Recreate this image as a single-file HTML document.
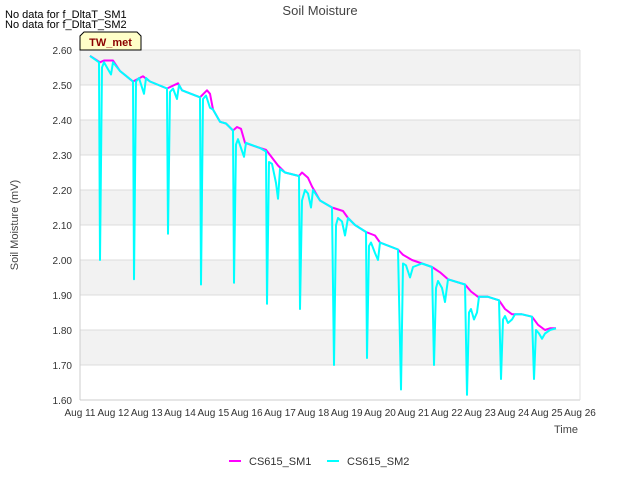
<!DOCTYPE html>
<html><head><meta charset="utf-8"><style>body{margin:0;background:#fff}svg{display:block;font-family:"Liberation Sans",sans-serif}</style></head><body>
<svg id="c" width="640" height="480">
<g id="bands"></g>
<g id="grid"></g>
<g id="axes"></g>
<g id="series"></g>
<text x="320" y="15" text-anchor="middle" font-size="13" fill="#444">Soil Moisture</text>
<text x="5" y="18" font-size="11" fill="#000">No data for f_DltaT_SM1</text>
<text x="5" y="28" font-size="11" fill="#000">No data for f_DltaT_SM2</text>
<g><path d="M80,50 L80,36 L84,32 L137,32 L141,36 L141,50 Z" fill="#ffffc8" stroke="#000" stroke-width="1"/><text x="110.5" y="46" text-anchor="middle" font-size="11" font-weight="bold" fill="#8b0000">TW_met</text></g>
<text transform="translate(18,225) rotate(-90)" text-anchor="middle" font-size="11" fill="#444">Soil Moisture (mV)</text>
<text x="566" y="433" text-anchor="middle" font-size="11" fill="#444">Time</text>
<g>
<g><line x1="229" y1="461" x2="241" y2="461" stroke="#ff00ff" stroke-width="2"/><text x="249" y="465" font-size="11" fill="#333">CS615_SM1</text></g>
<g><line x1="327" y1="461" x2="339" y2="461" stroke="#00ffff" stroke-width="2"/><text x="347" y="465" font-size="11" fill="#333">CS615_SM2</text></g>
</g>
</svg>
<script>
const xTickLabels=["Aug 11","Aug 12","Aug 13","Aug 14","Aug 15","Aug 16","Aug 17","Aug 18","Aug 19","Aug 20","Aug 21","Aug 22","Aug 23","Aug 24","Aug 25","Aug 26"];
const yTicks=[1.6,1.7,1.8,1.9,2.0,2.1,2.2,2.3,2.4,2.5,2.6];
const sm1Days=[0.30,0.60,0.72,0.99,1.20,1.59,1.89,2.10,2.61,2.94,3.06,3.60,3.81,3.90,3.99,4.20,4.38,4.59,4.71,4.83,4.95,5.40,5.58,5.70,5.94,6.15,6.57,6.66,6.84,6.96,7.20,7.56,7.89,8.04,8.25,8.58,8.85,9.00,9.54,9.69,9.96,10.26,10.56,10.80,11.04,11.55,11.73,11.94,12.24,12.57,12.75,12.96,13.26,13.56,13.74,13.95,14.10,14.28];
const sm1Values=[2.583,2.565,2.57,2.57,2.54,2.51,2.525,2.51,2.49,2.505,2.485,2.465,2.485,2.475,2.43,2.395,2.39,2.37,2.38,2.375,2.335,2.32,2.315,2.30,2.27,2.25,2.24,2.25,2.235,2.21,2.17,2.15,2.14,2.12,2.10,2.08,2.07,2.05,2.03,2.015,2.0,1.99,1.98,1.965,1.945,1.93,1.91,1.895,1.895,1.885,1.86,1.845,1.845,1.838,1.815,1.80,1.805,1.805];
const sm2Days=[0.30,0.57,0.60,0.66,0.72,0.78,0.93,0.99,1.20,1.59,1.62,1.68,1.77,1.92,1.98,2.10,2.61,2.64,2.70,2.79,2.91,2.97,3.06,3.60,3.63,3.69,3.78,3.90,3.99,4.20,4.38,4.59,4.62,4.68,4.74,4.83,4.92,4.98,5.40,5.58,5.61,5.67,5.76,5.88,5.94,6.00,6.15,6.57,6.60,6.66,6.75,6.84,6.93,6.99,7.20,7.56,7.62,7.68,7.74,7.86,7.95,8.04,8.25,8.58,8.61,8.67,8.73,8.85,8.94,9.00,9.54,9.63,9.69,9.78,9.90,9.99,10.26,10.56,10.62,10.68,10.74,10.86,10.95,11.04,11.55,11.61,11.67,11.73,11.82,11.91,11.97,12.24,12.57,12.63,12.69,12.75,12.84,12.96,13.05,13.26,13.56,13.62,13.68,13.77,13.86,13.95,14.10,14.28];
const sm2Values=[2.583,2.565,2.00,2.55,2.565,2.555,2.53,2.565,2.54,2.51,1.945,2.51,2.52,2.475,2.52,2.51,2.49,2.075,2.48,2.49,2.46,2.50,2.485,2.465,1.93,2.46,2.47,2.435,2.43,2.395,2.39,2.37,1.935,2.33,2.345,2.32,2.295,2.335,2.32,2.31,1.875,2.28,2.275,2.22,2.175,2.26,2.25,2.24,1.86,2.17,2.20,2.19,2.15,2.20,2.17,2.15,1.70,2.10,2.12,2.11,2.07,2.12,2.10,2.08,1.72,2.04,2.05,2.02,2.00,2.05,2.03,1.63,1.99,1.985,1.95,1.98,1.99,1.98,1.70,1.92,1.94,1.92,1.88,1.945,1.93,1.615,1.85,1.86,1.83,1.85,1.895,1.895,1.885,1.66,1.83,1.84,1.82,1.83,1.845,1.845,1.838,1.66,1.80,1.79,1.775,1.79,1.80,1.805];
const NS="http://www.w3.org/2000/svg";
const X0=80,X1=580,Y0=400,Y1=50;
const xs=d=>X0+(X1-X0)*d/15;
const ys=v=>Y0-(Y0-Y1)*(v-1.6)/1.0;
function mk(tag,attrs,parent){const e=document.createElementNS(NS,tag);for(const k in attrs)e.setAttribute(k,attrs[k]);document.getElementById(parent).appendChild(e);return e;}
for(let i=0;i<yTicks.length-1;i++){
  if(i%2===1){const r=mk('rect',{x:X0,y:ys(yTicks[i+1]),width:X1-X0,height:ys(yTicks[i])-ys(yTicks[i+1]),fill:'#f2f2f2'},'bands');
  
  }
}
yTicks.forEach(v=>{
  const l=mk('line',{x1:X0,x2:X1,y1:ys(v),y2:ys(v),stroke:'#dcdcdc','stroke-width':1},'grid');
  
  
  const t=mk('text',{x:X0-8,y:ys(v)+4,'text-anchor':'end','font-size':10,fill:'#333'},'axes');
  
  
  t.textContent=v.toFixed(2);
});
const ax=mk('line',{x1:X0,x2:X0,y1:Y1,y2:Y0,stroke:'#ccc'},'axes');


const bx=mk('line',{x1:X0,x2:X1,y1:Y0,y2:Y0,stroke:'#ccc'},'axes');


const rx=mk('line',{x1:X1,x2:X1,y1:Y1,y2:Y0,stroke:'#e0e0e0'},'axes');


xTickLabels.forEach((s,i)=>{
  const t=mk('text',{x:xs(i),y:Y0+16,'text-anchor':'middle','font-size':10,fill:'#333'},'axes');
  
  
  t.textContent=s;
});
function line(days,vals,color,name){
  const p=days.map((d,i)=>xs(d).toFixed(1)+','+ys(vals[i]).toFixed(1)).join(' ');
  const e=mk('polyline',{points:p,fill:'none',stroke:color,'stroke-width':2,'stroke-linejoin':'round'},'series');
  
  
}
line(sm1Days,sm1Values,'#ff00ff','series-cs615-sm1');
line(sm2Days,sm2Values,'#00ffff','series-cs615-sm2');
</script>
</body></html>
